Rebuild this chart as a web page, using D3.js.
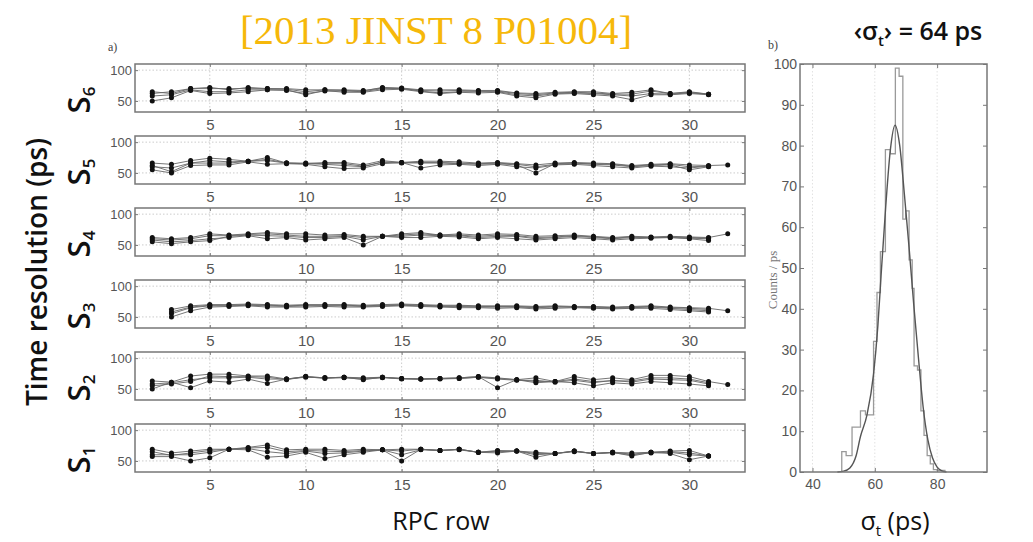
<!DOCTYPE html>
<html>
<head>
<meta charset="utf-8">
<script src="https://cdn.jsdelivr.net/npm/d3@7"></script>
<style>
  body { margin: 0; background: #fff; }
</style>
</head>
<body>
<script>
// RPC rows 2..32 on the x axis of every station panel
const rpcRows = d3.range(2, 33);
const rowTicks = [5, 10, 15, 20, 25, 30];
const resTicks = [50, 100];

// time resolution (ps) per RPC row, several strips per station (null = no RPC)
const s6Series = [
  [62,65,70,72,68,72,70,70,68,68,67,66,72,71,68,68,68,67,67,63,62,64,65,65,62,64,68,62,65,61,null],
  [58,60,68,65,65,68,68,67,62,66,66,65,70,70,66,63,65,65,65,60,58,62,63,62,60,58,62,61,63,61,null],
  [50,55,67,62,63,65,68,68,60,67,64,64,68,69,65,62,64,63,64,58,55,61,62,60,58,52,60,60,62,60,null],
  [65,62,70,70,70,70,70,69,65,68,68,67,71,70,67,66,67,66,66,62,60,63,64,63,61,61,66,62,64,61,null]
];
const s5Series = [
  [66,64,70,74,72,69,75,66,65,67,67,63,70,67,69,69,68,66,67,65,63,66,67,66,65,62,64,65,63,62,63],
  [60,58,66,66,66,69,70,66,65,64,62,60,68,67,66,66,65,64,65,63,50,65,66,64,63,60,62,63,55,60,null],
  [55,50,62,63,63,68,64,65,64,60,57,58,65,67,58,63,64,62,64,60,58,63,64,62,60,58,61,60,58,61,null],
  [62,52,66,70,68,69,72,66,66,65,65,61,67,66,67,67,66,65,66,64,60,64,65,65,64,61,63,64,60,61,null]
];
const s4Series = [
  [62,60,62,68,66,68,70,68,68,66,67,64,64,68,70,66,68,66,68,67,64,65,66,64,62,64,63,64,63,62,68],
  [58,55,57,60,62,65,60,62,58,60,62,50,64,62,62,64,63,60,62,60,58,60,62,60,58,60,61,62,60,57,null],
  [55,52,55,57,64,66,65,64,62,62,64,58,64,64,66,65,65,62,64,64,60,62,64,62,60,62,62,62,61,60,null],
  [60,58,60,65,65,67,68,66,64,64,65,62,64,66,68,66,66,64,66,65,62,63,65,63,61,63,62,63,62,61,null]
];
const s3Series = [
  [null,62,68,70,70,71,70,69,70,70,70,69,70,71,70,69,69,68,68,68,67,68,67,67,66,67,68,66,65,64,60],
  [null,55,65,68,68,69,68,67,68,68,68,67,68,69,68,67,67,66,66,66,65,66,66,65,64,65,66,64,62,60,null],
  [null,50,60,66,67,68,66,66,66,67,66,66,67,68,67,66,65,65,64,65,63,64,65,64,63,64,64,62,60,58,null],
  [null,58,66,69,69,70,69,68,69,69,69,68,69,70,69,68,68,67,67,67,66,67,66,66,65,66,67,65,64,62,null]
];
const s2Series = [
  [63,61,71,74,74,71,71,66,70,68,69,68,69,67,66,67,68,70,68,65,68,62,70,65,68,65,72,72,70,62,57],
  [50,61,52,63,61,66,59,66,70,68,69,65,69,67,66,67,68,70,52,65,60,62,60,55,60,58,62,60,58,55,null],
  [58,60,65,68,68,69,66,66,69,68,68,66,68,67,66,66,67,69,66,64,64,61,64,60,64,61,66,65,64,58,null],
  [55,58,62,71,70,70,69,65,70,67,69,67,69,66,66,67,67,69,67,65,62,62,66,62,63,63,68,68,66,60,null]
];
const s1Series = [
  [69,63,66,69,69,72,76,68,69,69,67,69,68,69,69,67,69,64,67,66,64,62,66,62,64,63,64,66,67,58,null],
  [57,57,50,55,69,68,56,58,64,54,60,64,68,50,69,67,69,64,63,66,56,62,66,62,64,58,64,62,52,58,null],
  [60,60,60,64,69,70,65,62,66,62,63,66,68,60,68,67,68,64,65,66,60,62,65,62,63,60,63,64,60,58,null],
  [65,59,63,67,69,71,72,65,67,66,65,67,68,66,69,67,69,64,66,66,62,62,66,62,64,61,64,65,63,58,null]
];
const stationNames = ['6', '5', '4', '3', '2', '1'];
const stationSeries = [s6Series, s5Series, s4Series, s3Series, s2Series, s1Series];

// histogram of sigma_t: bin edges (ps) and counts / ps
const histEdges = [49.4,50.8,52.7,55.4,57.0,59.6,60.7,61.8,63.4,65.0,66.6,67.8,69.0,69.9,71.0,72.0,72.6,73.7,74.8,75.8,76.8,77.8,78.8,80.0,82.5];
const histCounts = [5,4,11,15,14,32,44,54,79,78,99,97,62,64,52,45,26,25,15,9,4,2,0.6,0.4];
// gaussian fit curve
const fitX = [48,50,52,54,55.4,57.5,59.6,61,62,63.5,65,66.5,68,69.5,71,72.5,74,75.5,77,78.5,80,81.5,83];
const fitY = [0,0.2,1,4,8.7,14,24,36,48,65,79,85,80,68,55,41,28,16,8,3.5,1.2,0.3,0];
const histXTicks = [40, 60, 80];
const histYTicks = d3.range(0, 101, 10);

const width = 1033;
const height = 542;

const svg = d3.select('body').append('svg')
  .attr('width', width)
  .attr('height', height)
  .attr('font-family', 'Liberation Sans, Arial, sans-serif');

const x = d3.scaleLinear().domain([1.1, 32.9]).range([135, 745]);
const panelH = 48;

stationSeries.forEach((series, i) => {
  const top = 64 + i * 72;
  const y = d3.scaleLinear().domain([32, 110]).range([top + panelH, top]);
  const g = svg.append('g');

  // dotted grid
  g.append('g').selectAll('line.vx')
    .data(rowTicks)
    .join('line')
      .attr('x1', d => x(d)).attr('x2', d => x(d))
      .attr('y1', top).attr('y2', top + panelH)
      .attr('stroke', '#ccc')
      .attr('stroke-dasharray', '1.5,2');
  g.append('g').selectAll('line.hy')
    .data(resTicks)
    .join('line')
      .attr('x1', 135).attr('x2', 745)
      .attr('y1', d => y(d)).attr('y2', d => y(d))
      .attr('stroke', '#ccc')
      .attr('stroke-dasharray', '1.5,2');

  const line = d3.line()
    .defined(d => d[1] != null)
    .x(d => x(d[0]))
    .y(d => y(d[1]));

  series.forEach(vals => {
    const pts = rpcRows.map((r, k) => [r, vals[k]]);
    g.append('path')
      .attr('d', line(pts))
      .attr('fill', 'none')
      .attr('stroke', '#666')
      .attr('stroke-width', 0.9);
    g.append('g').selectAll('circle')
      .data(pts.filter(d => d[1] != null))
      .join('circle')
        .attr('cx', d => x(d[0]))
        .attr('cy', d => y(d[1]))
        .attr('r', 2.5)
        .attr('fill', '#111');
  });

  // axes, MATLAB style inward ticks
  const xb = g.append('g')
    .attr('transform', `translate(0,${top + panelH})`)
    .call(d3.axisBottom(x).tickValues(rowTicks).tickSize(-3).tickPadding(7));
  xb.selectAll('text').attr('font-size', 15).attr('fill', '#555');
  g.append('g')
    .attr('transform', `translate(0,${top})`)
    .call(d3.axisTop(x).tickValues(rowTicks).tickSize(-3).tickFormat(''));
  const yl = g.append('g')
    .attr('transform', 'translate(135,0)')
    .call(d3.axisLeft(y).tickValues(resTicks).tickSize(-3).tickPadding(3));
  yl.selectAll('text').attr('font-size', 13).attr('fill', '#555');
  g.append('g')
    .attr('transform', 'translate(745,0)')
    .call(d3.axisRight(y).tickValues(resTicks).tickSize(-3).tickFormat(''));
  g.selectAll('.domain').remove();
  g.selectAll('.tick line').attr('stroke', '#777');
  g.selectAll('g').attr('font-family', null);

  g.append('rect')
    .attr('x', 135).attr('y', top)
    .attr('width', 610).attr('height', panelH)
    .attr('fill', 'none')
    .attr('stroke', '#777')
    .attr('stroke-width', 1.5);

  // station label S_n
  const lab = svg.append('text')
    .attr('transform', `translate(90,${top + 36}) rotate(-90)`)
    .attr('text-anchor', 'middle')
    .attr('font-family', 'Open Sans')
    .attr('font-weight', 600)
    .attr('font-size', 31)
    .attr('fill', '#111');
  lab.append('tspan').text('S');
  lab.append('tspan').attr('font-size', 17).attr('dy', 5).text(stationNames[i]);
});

// histogram panel b)
const hx = d3.scaleLinear().domain([36, 96]).range([800, 987]);
const hy = d3.scaleLinear().domain([0, 100]).range([472, 64]);
const hg = svg.append('g');

hg.append('g').selectAll('line')
  .data(histXTicks)
  .join('line')
    .attr('x1', d => hx(d)).attr('x2', d => hx(d))
    .attr('y1', 64).attr('y2', 472)
    .attr('stroke', '#e2e2e2')
    .attr('stroke-dasharray', '1.5,2');

const stepPts = [[histEdges[0], 0]]
  .concat(histCounts.map((c, k) => [histEdges[k], c]))
  .concat([[histEdges[histEdges.length - 1], 0]]);
hg.append('path')
  .attr('d', d3.line().curve(d3.curveStepAfter).x(d => hx(d[0])).y(d => hy(d[1]))(stepPts))
  .attr('fill', 'none')
  .attr('stroke', '#9a9a9a')
  .attr('stroke-width', 1.3);

hg.append('path')
  .attr('d', d3.line().curve(d3.curveMonotoneX).x((d, k) => hx(fitX[k])).y(d => hy(d))(fitY))
  .attr('fill', 'none')
  .attr('stroke', '#555')
  .attr('stroke-width', 1.4);

const hxb = hg.append('g')
  .attr('transform', 'translate(0,472)')
  .call(d3.axisBottom(hx).tickValues(histXTicks).tickSize(-4).tickPadding(7));
hxb.selectAll('text').attr('font-size', 14).attr('fill', '#555');
hg.append('g')
  .attr('transform', 'translate(0,64)')
  .call(d3.axisTop(hx).tickValues(histXTicks).tickSize(-4).tickFormat(''));
const hyl = hg.append('g')
  .attr('transform', 'translate(800,0)')
  .call(d3.axisLeft(hy).tickValues(histYTicks).tickSize(-4).tickPadding(3));
hyl.selectAll('text').attr('font-size', 14).attr('fill', '#555');
hg.append('g')
  .attr('transform', 'translate(987,0)')
  .call(d3.axisRight(hy).tickValues(histYTicks).tickSize(-4).tickFormat(''));
hg.selectAll('.domain').remove();
hg.selectAll('.tick line').attr('stroke', '#777');
hg.selectAll('g').attr('font-family', null);
hg.append('rect')
  .attr('x', 800).attr('y', 64)
  .attr('width', 187).attr('height', 408)
  .attr('fill', 'none')
  .attr('stroke', '#777')
  .attr('stroke-width', 1.5);

// texts
svg.append('text')
  .attr('x', 436).attr('y', 44)
  .attr('text-anchor', 'middle')
  .attr('font-family', 'Liberation Serif')
  .attr('font-size', 41)
  .attr('fill', '#f6b80a')
  .text('[2013 JINST 8 P01004]');

const mean = svg.append('text')
  .attr('x', 918).attr('y', 40)
  .attr('text-anchor', 'middle')
  .attr('font-family', 'Open Sans')
  .attr('font-weight', 600)
  .attr('font-size', 25)
  .attr('fill', '#111');
mean.append('tspan').text('‹σ');
mean.append('tspan').attr('font-size', 15).attr('dy', 6).text('t');
mean.append('tspan').attr('dy', -6).text('› = 64 ps');

svg.append('text')
  .attr('x', 108).attr('y', 51)
  .attr('font-family', 'Liberation Serif')
  .attr('font-size', 12)
  .attr('fill', '#444')
  .text('a)');
svg.append('text')
  .attr('x', 768).attr('y', 49)
  .attr('font-family', 'Liberation Serif')
  .attr('font-size', 12)
  .attr('fill', '#444')
  .text('b)');

svg.append('text')
  .attr('transform', 'translate(47,272) rotate(-90)')
  .attr('text-anchor', 'middle')
  .attr('font-family', 'Open Sans')
  .attr('font-weight', 600)
  .attr('font-size', 28)
  .attr('fill', '#111')
  .text('Time resolution (ps)');

svg.append('text')
  .attr('transform', 'translate(777,280) rotate(-90)')
  .attr('text-anchor', 'middle')
  .attr('font-family', 'Liberation Serif')
  .attr('font-size', 13)
  .attr('fill', '#777')
  .text('Counts / ps');

svg.append('text')
  .attr('x', 441).attr('y', 530)
  .attr('text-anchor', 'middle')
  .attr('font-family', 'Open Sans')
  .attr('font-size', 25)
  .attr('fill', '#111')
  .text('RPC row');

const sig = svg.append('text')
  .attr('x', 895).attr('y', 530)
  .attr('text-anchor', 'middle')
  .attr('font-family', 'Open Sans')
  .attr('font-size', 25)
  .attr('fill', '#111');
sig.append('tspan').text('σ');
sig.append('tspan').attr('font-size', 15).attr('dy', 6).text('t');
sig.append('tspan').attr('dy', -6).text(' (ps)');
</script>
</body>
</html>
